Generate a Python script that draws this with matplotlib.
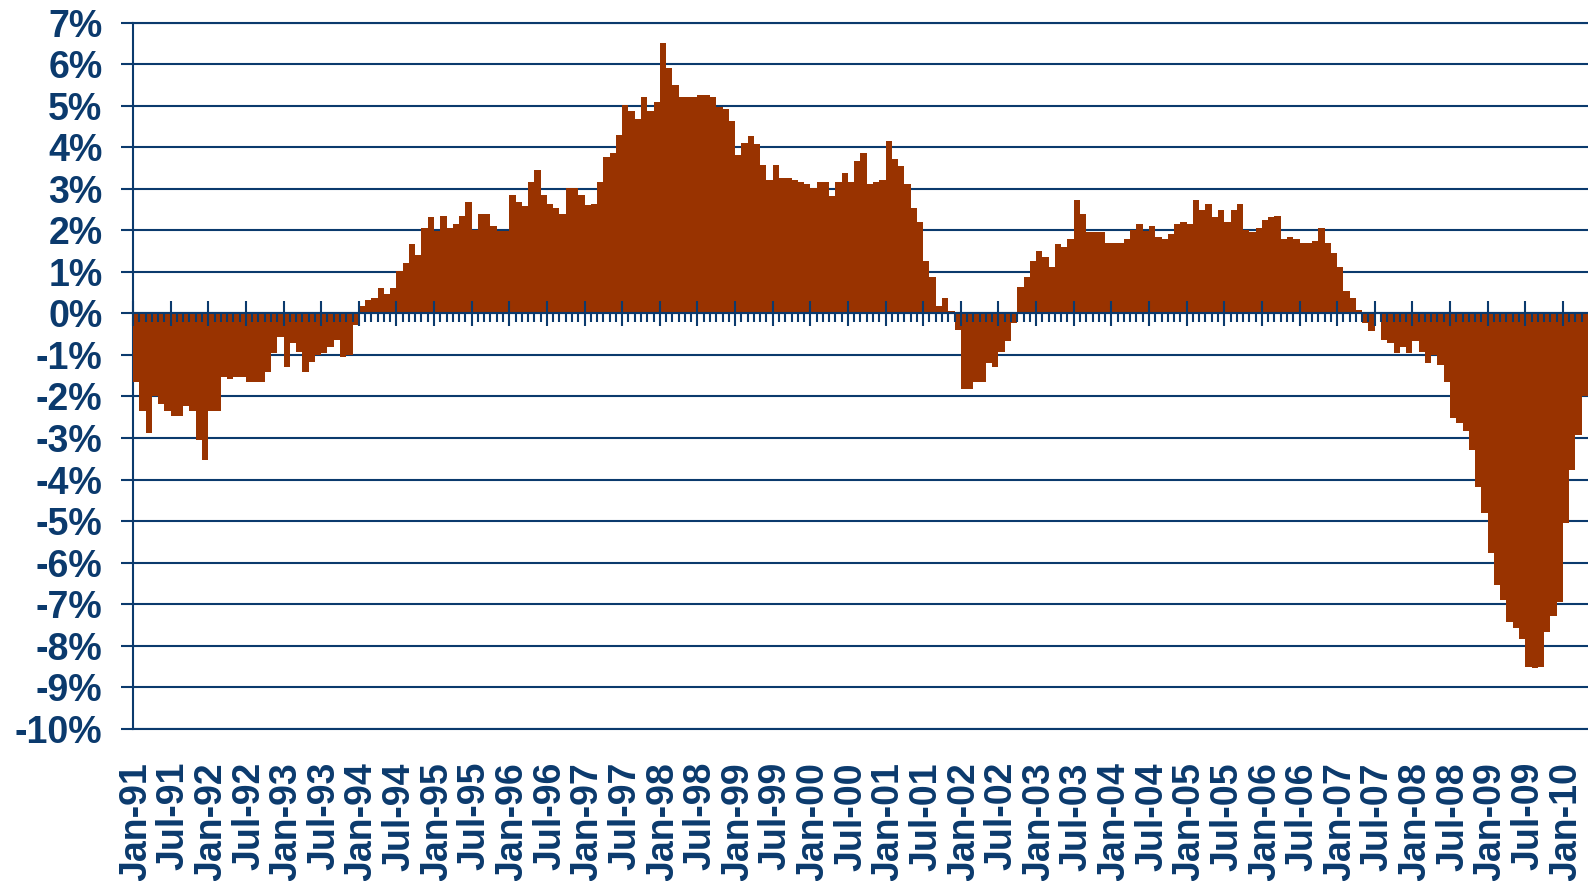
import matplotlib
matplotlib.use('Agg')
import matplotlib.pyplot as plt

# monthly values (%), Jan-91 .. Apr-10
values = [
    -1.66, -2.34, -2.87, -2.00, -2.19, -2.34, -2.48, -2.48, -2.24, -2.34, -3.06, -3.52,  # 1991
    -2.34, -2.34, -1.54, -1.57, -1.54, -1.54, -1.66, -1.66, -1.64, -1.40, -0.96, -0.58,  # 1992
    -1.30, -0.72, -0.92, -1.40, -1.16, -1.01, -0.96, -0.82, -0.63, -1.06, -1.01, -0.29,  # 1993
    0.19, 0.33, 0.38, 0.60, 0.47, 0.60, 1.03, 1.22, 1.66, 1.41, 2.06, 2.31,              # 1994
    1.99, 2.35, 2.06, 2.16, 2.35, 2.69, 2.01, 2.40, 2.40, 2.11, 1.99, 1.99,              # 1995
    2.84, 2.69, 2.59, 3.17, 3.45, 2.84, 2.64, 2.55, 2.40, 3.03, 3.03, 2.84,              # 1996
    2.60, 2.64, 3.17, 3.77, 3.87, 4.30, 5.01, 4.88, 4.69, 5.20, 4.88, 5.10,              # 1997
    6.50, 5.92, 5.49, 5.20, 5.20, 5.20, 5.25, 5.25, 5.20, 4.98, 4.93, 4.64,              # 1998
    3.82, 4.11, 4.26, 4.07, 3.58, 3.22, 3.58, 3.27, 3.27, 3.22, 3.17, 3.12,              # 1999
    3.02, 3.17, 3.17, 2.83, 3.17, 3.37, 3.17, 3.67, 3.87, 3.12, 3.17, 3.22,              # 2000
    4.16, 3.72, 3.55, 3.12, 2.54, 2.21, 1.27, 0.88, 0.19, 0.38, 0.05, -0.39,             # 2001
    -1.81, -1.81, -1.66, -1.64, -1.20, -1.30, -0.92, -0.67, -0.24, 0.64, 0.88, 1.27,     # 2002
    1.51, 1.37, 1.12, 1.66, 1.61, 1.80, 2.74, 2.40, 1.95, 1.95, 1.95, 1.69,              # 2003
    1.69, 1.69, 1.80, 2.02, 2.16, 1.99, 2.11, 1.85, 1.80, 1.90, 2.16, 2.21,              # 2004
    2.16, 2.74, 2.50, 2.64, 2.31, 2.50, 2.21, 2.50, 2.64, 2.02, 1.95, 2.06,              # 2005
    2.26, 2.31, 2.35, 1.80, 1.85, 1.80, 1.69, 1.69, 1.75, 2.06, 1.69, 1.45,              # 2006
    1.11, 0.55, 0.38, 0.09, -0.24, -0.43, -0.02, -0.63, -0.72, -0.96, -0.82, -0.96,      # 2007
    -0.67, -0.92, -1.20, -1.01, -1.25, -1.64, -2.53, -2.63, -2.82, -3.28, -4.19, -4.80,  # 2008
    -5.76, -6.55, -6.89, -7.42, -7.57, -7.83, -8.51, -8.55, -8.51, -7.66, -7.28, -6.94,  # 2009
    -5.04, -3.76, -2.92, -2.00,                                                          # 2010
]

years = list(range(91, 100)) + list(range(0, 11))
tick_labels = []
for y in years:
    tick_labels.append('Jan-%02d' % y)
    tick_labels.append('Jul-%02d' % y)
tick_labels = tick_labels[:39]  # Jan-91 .. Jan-10

y_ticks = list(range(-10, 8))
y_labels = ['%d%%' % v for v in y_ticks]

navy = '#0B3A6D'
bar_color = '#993300'

plt.rcParams['font.family'] = ['Liberation Sans', 'DejaVu Sans']

fig = plt.figure(figsize=(15.88, 8.81), dpi=100)
ax = fig.add_axes([133 / 1588, 152.3 / 881, 1 - 133 / 1588, (728.7 - 22.7) / 881])

months = list(range(len(values)))
ax.bar(months, values, width=1.0, color=bar_color, linewidth=0, zorder=3)

ax.set_xlim(-0.5, len(values) - 0.5)
ax.set_ylim(-10, 7)

# horizontal grid every 1%
ax.set_yticks(y_ticks, y_labels)
ax.yaxis.grid(True, color=navy, linewidth=1.5, zorder=1)
ax.tick_params(axis='y', direction='out', length=9, width=1.5, color=navy,
               pad=13, labelsize=27, labelcolor=navy)
for lab in ax.get_yticklabels():
    lab.set_fontweight('bold')

# date labels at the bottom, every 6 months
ax.set_xticks(months[::6], tick_labels, rotation=90)
ax.tick_params(axis='x', length=0, pad=24, labelsize=27, labelcolor=navy)
for lab in ax.get_xticklabels():
    lab.set_fontweight('bold')

for s in ['left', 'top', 'bottom']:
    ax.spines[s].set_color(navy)
    ax.spines[s].set_linewidth(1.5)
ax.spines['right'].set_visible(False)

# category axis crossing at 0%, drawn over the bars
zero = ax.secondary_xaxis(10 / 17)
zero.set_zorder(5)
zero.set_xticks([m - 0.5 for m in months[::6]])
zero.set_xticks([m - 0.5 for m in months if m % 6 != 0], minor=True)
zero.xaxis.set_ticks_position('bottom')
zero.tick_params(which='both', labelbottom=False, labeltop=False)
zero.tick_params(which='major', direction='inout', length=18, width=1.5, color=navy)
zero.tick_params(which='minor', direction='out', length=6.5, width=1.5, color=navy)
for s in ['top', 'bottom']:
    zero.spines[s].set_color(navy)
    zero.spines[s].set_linewidth(1.5)

plt.savefig('out.png', dpi=100)
